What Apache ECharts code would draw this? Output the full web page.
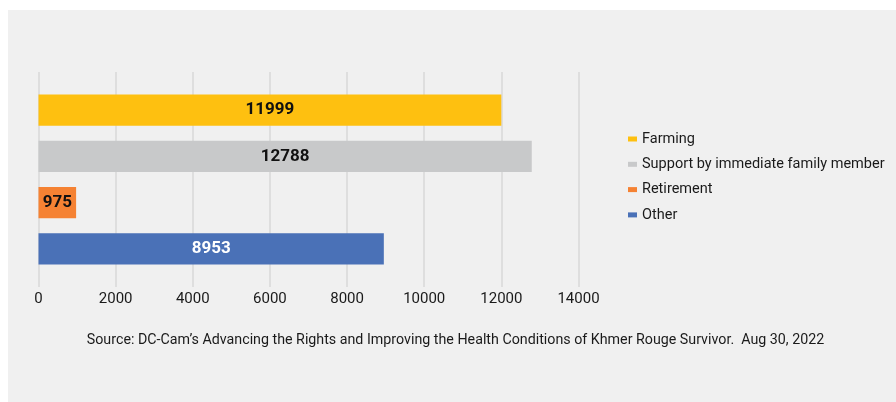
<!DOCTYPE html>
<html>
<head>
<meta charset="utf-8">
<script src="https://cdn.jsdelivr.net/npm/echarts@6/dist/echarts.min.js"></script>
<style>
  html, body { margin: 0; padding: 0; background: #ffffff; }
  #chart { width: 896px; height: 402px; }
</style>
</head>
<body>
<div id="chart"></div>
<script>
// Sources of income reported by survivors (number of respondents)
const seriesNames = ['Farming', 'Support by immediate family member', 'Retirement', 'Other'];
const seriesValues = [11999, 12788, 975, 8953];
const seriesColors = ['#FEC010', '#C8C9CA', '#F58233', '#4A71B7'];
const labelColors = ['#111111', '#111111', '#111111', '#ffffff'];
const categories = ['Income'];
const xTicks = { min: 0, max: 14000, interval: 2000 };
const sourceNote = 'Source: DC-Cam\u2019s Advancing the Rights and Improving the Health Conditions of Khmer Rouge Survivor.  Aug 30, 2022';

const FONT = 'Roboto, "Liberation Sans", sans-serif';

const chart = echarts.init(document.getElementById('chart'), null, { renderer: 'canvas' });

const series = seriesNames.map((name, i) => ({
  name: name,
  type: 'bar',
  data: [seriesValues[i]],
  itemStyle: { color: seriesColors[i] },
  barCategoryGap: '21%',
  barGap: '49%',
  label: {
    show: true,
    position: 'inside',
    color: labelColors[i],
    fontFamily: FONT,
    fontWeight: 'bold',
    fontSize: 17
  }
}));

chart.setOption({
  backgroundColor: '#ffffff',
  animation: false,
  graphic: [
    {
      type: 'rect',
      z: -10,
      silent: true,
      shape: { x: 8, y: 10, width: 888, height: 392 },
      style: { fill: '#F0F0F0' }
    },
    {
      type: 'text',
      silent: true,
      x: 455.5,
      y: 340,
      style: {
        text: sourceNote,
        fill: '#1a1a1a',
        font: '14.25px ' + FONT,
        align: 'center',
        verticalAlign: 'middle'
      }
    }
  ],
  grid: { left: 38.5, right: 317.5, top: 72, bottom: 115 },
  legend: {
    orient: 'vertical',
    left: 628,
    top: 130,
    padding: 0,
    itemWidth: 9,
    itemHeight: 5,
    itemGap: 7.3,
    icon: 'rect',
    textStyle: { fontFamily: FONT, fontSize: 14.5, color: '#1a1a1a', lineHeight: 18 },
    data: seriesNames
  },
  xAxis: {
    type: 'value',
    min: xTicks.min,
    max: xTicks.max,
    interval: xTicks.interval,
    axisLine: { show: false },
    axisTick: { show: false },
    axisLabel: {
      fontFamily: FONT,
      fontSize: 15,
      color: '#1a1a1a',
      margin: 5,
      formatter: (v) => String(v)
    },
    splitLine: { lineStyle: { color: '#D9D9D9', width: 1.5 } }
  },
  yAxis: {
    type: 'category',
    data: categories,
    inverse: true,
    axisLine: { show: false },
    axisTick: { show: false },
    axisLabel: { show: false }
  },
  series: series
});
</script>
</body>
</html>
